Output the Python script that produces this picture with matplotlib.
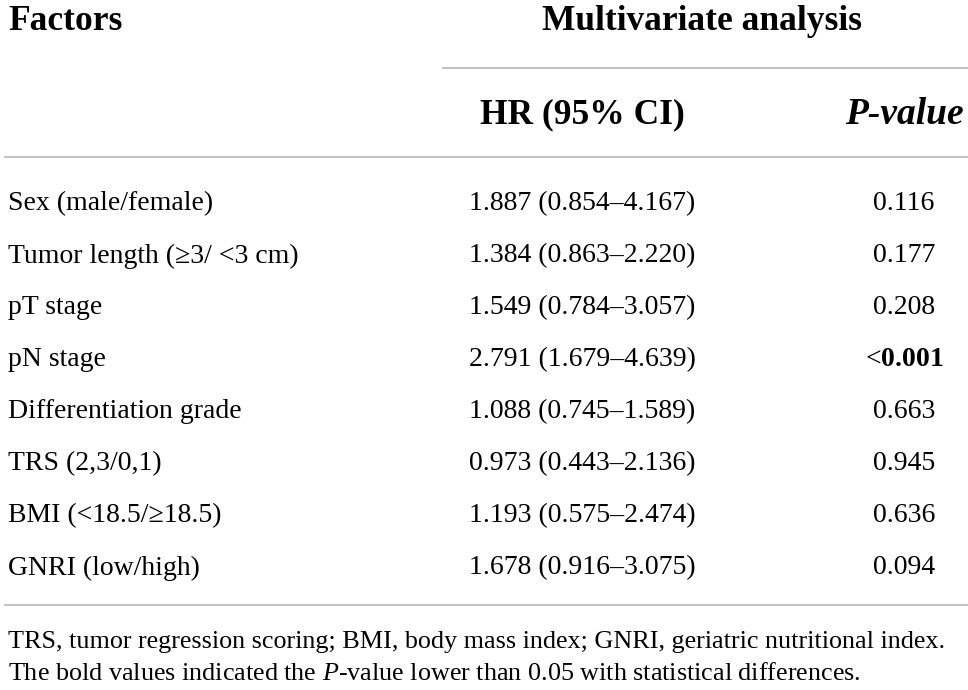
import matplotlib
matplotlib.use("Agg")
import matplotlib.pyplot as plt

plt.rcParams["font.family"] = ["Liberation Serif", "DejaVu Serif"]
plt.rcParams["mathtext.fontset"] = "custom"
plt.rcParams["mathtext.rm"] = "Liberation Serif"
plt.rcParams["mathtext.it"] = "Liberation Serif:italic"
plt.rcParams["mathtext.bf"] = "Liberation Serif:bold"

# Table contents
factors = [
    "Sex (male/female)",
    "Tumor length (\u22653/ <3 cm)",
    "pT stage",
    "pN stage",
    "Differentiation grade",
    "TRS (2,3/0,1)",
    "BMI (<18.5/\u226518.5)",
    "GNRI (low/high)",
]
hr_ci = [
    "1.887 (0.854\u20134.167)",
    "1.384 (0.863\u20132.220)",
    "1.549 (0.784\u20133.057)",
    "2.791 (1.679\u20134.639)",
    "1.088 (0.745\u20131.589)",
    "0.973 (0.443\u20132.136)",
    "1.193 (0.575\u20132.474)",
    "1.678 (0.916\u20133.075)",
]
p_values = ["0.116", "0.177", "0.208", "<0.001", "0.663", "0.945", "0.636", "0.094"]
significant = [False, False, False, True, False, False, False, False]

footnotes = [
    "TRS, tumor regression scoring; BMI, body mass index; GNRI, geriatric nutritional index.",
    "The bold values indicated the $\\mathit{P}$-value lower than 0.05 with statistical differences.",
]

W, H = 968, 690
fig = plt.figure(figsize=(W / 100, H / 100), dpi=100)
ax = fig.add_axes([0, 0, 1, 1])
ax.set_xlim(0, W)
ax.set_ylim(H, 0)
ax.axis("off")

body = 20
head = 25.5
line_col = "#b5b5b5"

# header
ax.text(8, 21, "Factors", fontsize=head, fontweight="bold", va="center")
ax.text(702, 21, "Multivariate analysis", fontsize=head, fontweight="bold",
        ha="center", va="center")
ax.plot([443, 968], [68, 68], color=line_col, lw=1.2)
ax.text(582, 115, "HR (95% CI)", fontsize=head, fontweight="bold",
        ha="center", va="center")
ax.text(904, 115, "P-value", fontsize=head + 1.5, fontweight="bold", style="italic",
        ha="center", va="center")
ax.plot([5, 968], [157, 157], color=line_col, lw=1.2)

# rows
y0, step = 204, 52
for i in range(len(factors)):
    y = y0 + i * step
    ax.text(8, y, factors[i], fontsize=body, va="center")
    ax.text(582, y, hr_ci[i], fontsize=body, ha="center", va="center")
    p = p_values[i]
    if significant[i]:
        p = "<$\\mathbf{" + p.lstrip("<") + "}$"
    ax.text(904, y, p, fontsize=body, ha="center", va="center")

ax.plot([5, 968], [605, 605], color=line_col, lw=1.2)

# footnotes
ax.text(8, 642, footnotes[0], fontsize=18.8, va="center")
ax.text(8, 674, footnotes[1], fontsize=18.8, va="center")

fig.savefig("out.png", dpi=100)
